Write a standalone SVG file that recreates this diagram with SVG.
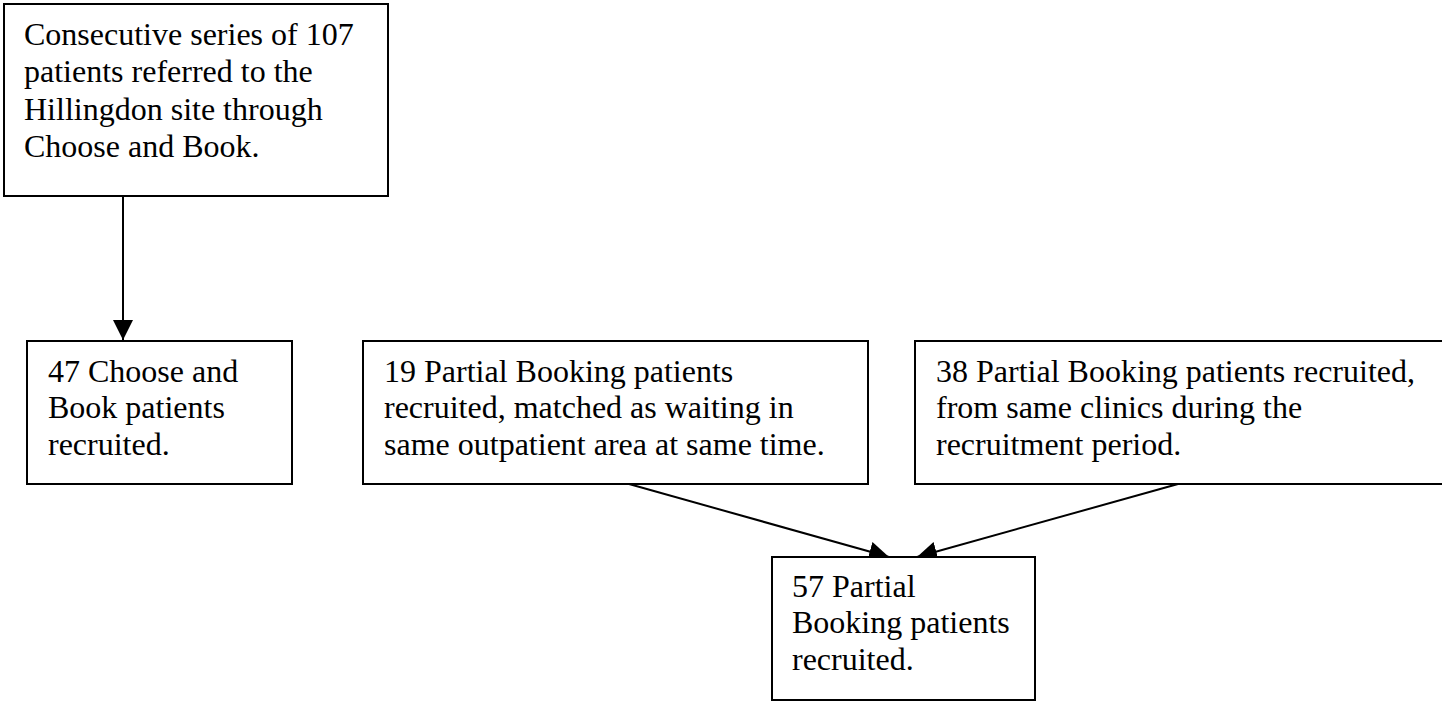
<svg xmlns="http://www.w3.org/2000/svg" width="1442" height="702" viewBox="0 0 1442 702">
<style>
.box{fill:#fff;stroke:#000;stroke-width:2}
.t{font-family:"Liberation Serif","Times New Roman",serif;font-size:32px;fill:#000}
.c{stroke:#000;stroke-width:2;fill:none}
</style>
<defs>
<marker id="ah" markerWidth="20" markerHeight="20" viewBox="0 0 20 20" refX="20" refY="10" orient="auto" markerUnits="userSpaceOnUse">
<path d="M0,0 L20,10 L0,20 Z" fill="#000"/>
</marker>
</defs>
<rect width="1442" height="702" fill="#fff"/>
<g id="connectors">
<line class="c" x1="123" y1="196" x2="123" y2="340" marker-end="url(#ah)"/>
<line class="c" x1="629" y1="484" x2="889" y2="557" marker-end="url(#ah)"/>
<line class="c" x1="1178" y1="484" x2="917" y2="557" marker-end="url(#ah)"/>
</g>
<g id="n1">
<rect class="box" x="4" y="4" width="384" height="192"/>
<text class="t" x="24" y="45">Consecutive series of 107</text>
<text class="t" x="24" y="82">patients referred to the</text>
<text class="t" x="24" y="120">Hillingdon site through</text>
<text class="t" x="24" y="157">Choose and Book.</text>
</g>
<g id="n2">
<rect class="box" x="27" y="341" width="265" height="143"/>
<text class="t" x="48" y="382">47 Choose and</text>
<text class="t" x="48" y="418">Book patients</text>
<text class="t" x="48" y="455">recruited.</text>
</g>
<g id="n3">
<rect class="box" x="363" y="341" width="505" height="143"/>
<text class="t" x="384" y="382">19 Partial Booking patients</text>
<text class="t" x="384" y="418">recruited, matched as waiting in</text>
<text class="t" x="384" y="455">same outpatient area at same time.</text>
</g>
<g id="n4">
<rect class="box" x="915" y="341" width="540" height="143"/>
<text class="t" x="936" y="382">38 Partial Booking patients recruited,</text>
<text class="t" x="936" y="418">from same clinics during the</text>
<text class="t" x="936" y="455">recruitment period.</text>
</g>
<g id="n5">
<rect class="box" x="772" y="557" width="263" height="143"/>
<text class="t" x="792" y="597">57 Partial</text>
<text class="t" x="792" y="633">Booking patients</text>
<text class="t" x="792" y="670">recruited.</text>
</g>
</svg>
